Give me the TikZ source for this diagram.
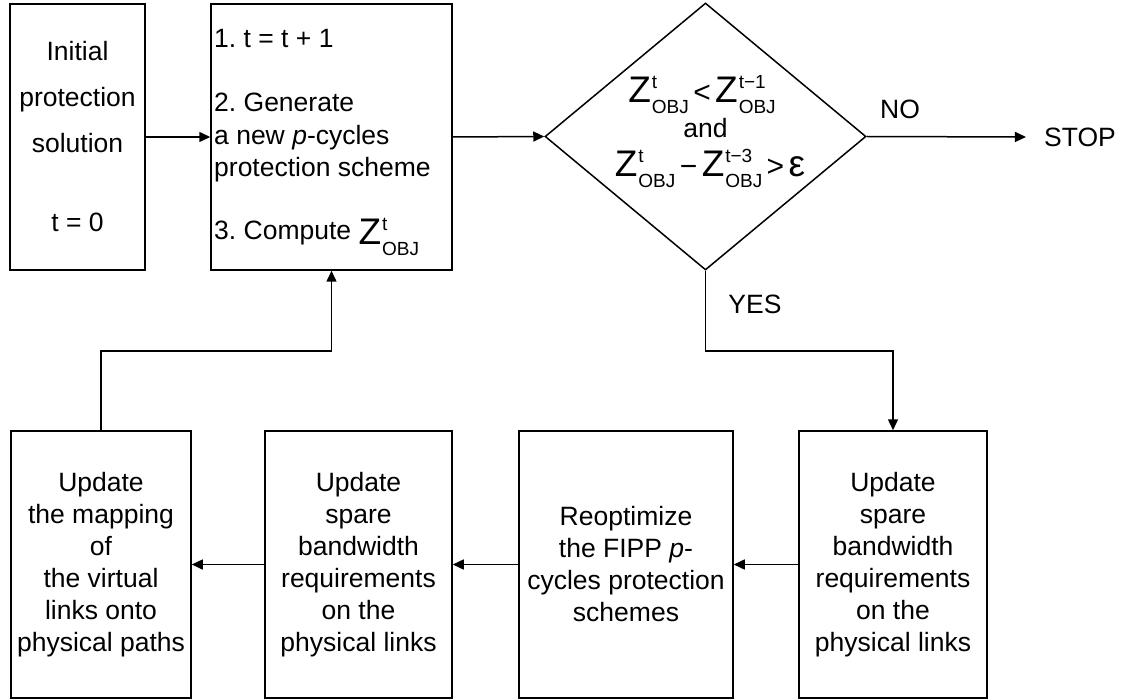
\documentclass[tikz,border=0pt]{standalone}
\usepackage{fontspec}
\setmainfont{Liberation Sans}
\usetikzlibrary{shapes.geometric,arrows.meta}
\newcommand\zo[1]{{\fontsize{37}{37}\selectfont Z}\kern1pt\rlap{\raisebox{14pt}{\fontsize{19}{19}\selectfont #1}}\raisebox{-11pt}{\fontsize{19}{19}\selectfont OBJ}}
\tikzset{
  box/.style={draw, line width=1.5pt, inner sep=0pt, align=center,
    font=\fontsize{26.5}{32}\selectfont},
  conn/.style={line width=1.5pt, -{Triangle[length=11pt,width=10pt]}},
  lbl/.style={font=\fontsize{26.5}{32}\selectfont, inner sep=0pt}
}
\begin{document}
\begin{tikzpicture}[x=1pt,y=-1pt]
\useasboundingbox (0,0) rectangle (1131,700);
% top row
\node[box, minimum width=135pt, minimum height=266pt, font=\fontsize{26.5}{46}\selectfont]
  (b1) at (77.5,137) {Initial\\ protection\\ solution\\[33pt] t = 0};
\node[box, minimum width=241pt, minimum height=266pt] (b2) at (331.5,137) {};
\node[lbl, anchor=north west, align=left, font=\fontsize{26.5}{32.5}\selectfont]
  (b2t) at (214,29) {1.\ t = t + 1\\[32pt] 2.\ Generate\\ a new \emph{p}-cycles\\ protection scheme\\[30pt] 3.\ Compute \raisebox{-5pt}{\zo{t}}};
\node[draw, diamond, line width=1.5pt, minimum width=321pt, minimum height=267pt, inner sep=0pt]
  (dec) at (705.5,136.5) {};
\node[lbl, anchor=base] (d1) at (702,103) {\zo{t}\,{\fontsize{30}{30}\selectfont <}\,\zo{t−1}};
\node[lbl, anchor=base] (dand) at (705.5,138) {and};
\node[lbl, anchor=base] (d2) at (710,177) {\zo{t}\,{\fontsize{30}{30}\selectfont −}\,\zo{t−3}\,{\fontsize{30}{30}\selectfont >}\,{\fontsize{37}{37}\selectfont ε}};
\node[lbl, inner xsep=18pt] (stop) at (1080,137) {STOP};
\node[lbl] (no) at (900,109) {NO};
\node[lbl] (yes) at (755,304) {YES};
% bottom row
\node[box, minimum width=180pt, minimum height=267pt] (ba) at (101,564.5)
  {Update\\ the mapping\\ of\\ the virtual\\ links onto\\ physical paths};
\node[box, minimum width=187pt, minimum height=267pt] (bb) at (358.5,564.5)
  {Update\\ spare\\ bandwidth\\ requirements\\ on the\\ physical links};
\node[box, minimum width=214pt, minimum height=267pt] (bc) at (626,564.5)
  {Reoptimize\\ the FIPP \emph{p}-\\ cycles protection\\ schemes};
\node[box, minimum width=188pt, minimum height=267pt] (bd) at (893,564.5)
  {Update\\ spare\\ bandwidth\\ requirements\\ on the\\ physical links};
% connectors
\draw[conn] (b1.east) -- (b2.west);
\draw[conn] (b2.east) -- (dec.west);
\draw[conn] (dec.east) -- (stop.west);
\draw[conn] (dec.south) |- (893,351) -- (bd.north);
\draw[conn] (bd.west) -- (bc.east);
\draw[conn] (bc.west) -- (bb.east);
\draw[conn] (bb.west) -- (ba.east);
\draw[conn] (ba.north) |- (331.5,351) -- (b2.south);
\end{tikzpicture}
\end{document}
